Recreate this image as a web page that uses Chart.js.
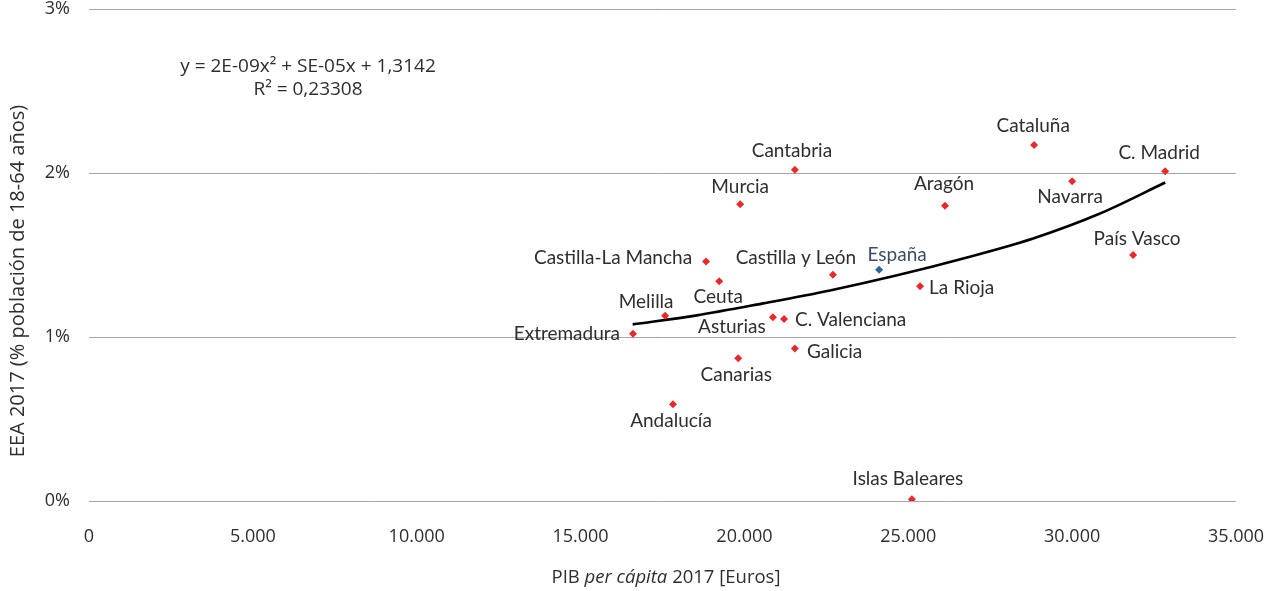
<!DOCTYPE html>
<html>
<head>
<meta charset="utf-8">
<script src="https://cdn.jsdelivr.net/npm/chart.js@4.4.1/dist/chart.umd.min.js"></script>
<style>
  html, body { margin: 0; padding: 0; background: #fff; }
  #wrap { position: relative; width: 1273px; height: 591px; }
</style>
</head>
<body>
<div id="wrap"><canvas id="chart" width="1273" height="591"></canvas></div>
<script>
"use strict";

// Regions (PIB per cápita 2017 in euros, EEA 2017 in %)
const regionNames = [
  "Cataluña", "C. Madrid", "Navarra", "Aragón", "País Vasco", "España",
  "La Rioja", "Cantabria", "Murcia", "Castilla-La Mancha", "Castilla y León",
  "Ceuta", "Melilla", "Extremadura", "Asturias", "C. Valenciana", "Galicia",
  "Canarias", "Andalucía", "Islas Baleares",
];
const pibValues = [
  28840, 32840, 30000, 26120, 31860, 24110,
  25360, 21540, 19870, 18830, 22700,
  19230, 17580, 16600, 20870, 21210, 21540,
  19810, 17820, 25110,
];
const eeaValues = [
  2.17, 2.01, 1.95, 1.80, 1.50, 1.41,
  1.31, 2.02, 1.81, 1.46, 1.38,
  1.34, 1.13, 1.02, 1.12, 1.11, 0.93,
  0.87, 0.59, 0.01,
];

// Polynomial trend line
const trendPib = [16590, 18550, 20570, 22610, 24660, 26790, 28810, 30850, 32840];
const trendEea = [1.077, 1.132, 1.205, 1.284, 1.376, 1.485, 1.601, 1.753, 1.942];

const yTicks = [0, 1, 2, 3];
const xTicks = [0, 5000, 10000, 15000, 20000, 25000, 30000, 35000];

const equationLines = ["y = 2E-09x\u00B2 + SE-05x + 1,3142", "R\u00B2 = 0,23308"];
const yTitle = "EEA 2017 (% población de 18-64 años)";
const xTitleParts = [
  { text: "PIB ", italic: false },
  { text: "per cápita", italic: true },
  { text: " 2017 [Euros]", italic: false },
];

// Label placement relative to each point
const labelPlacement = {
  "Cataluña": { dx: -1, dy: -19, align: "center" },
  "C. Madrid": { dx: -6, dy: -18, align: "center" },
  "Navarra": { dx: -2, dy: 16, align: "center" },
  "Aragón": { dx: -1, dy: -22, align: "center" },
  "País Vasco": { dx: 4, dy: -16, align: "center" },
  "España": { dx: 18, dy: -15, align: "center" },
  "La Rioja": { dx: 9, dy: 2, align: "left" },
  "Cantabria": { dx: -3, dy: -19, align: "center" },
  "Murcia": { dx: 0, dy: -17, align: "center" },
  "Castilla-La Mancha": { dx: -14, dy: -4, align: "right" },
  "Castilla y León": { dx: -37, dy: -17, align: "center" },
  "Ceuta": { dx: -1, dy: 16, align: "center" },
  "Melilla": { dx: -19, dy: -14, align: "center" },
  "Extremadura": { dx: -13, dy: 0, align: "right" },
  "Asturias": { dx: -41, dy: 10, align: "center" },
  "C. Valenciana": { dx: 11, dy: 1, align: "left" },
  "Galicia": { dx: 12, dy: 3, align: "left" },
  "Canarias": { dx: -2, dy: 17, align: "center" },
  "Andalucía": { dx: -2, dy: 17, align: "center" },
  "Islas Baleares": { dx: -4, dy: -20, align: "center" },
};

const RED = "#e8292c";
const BLUE = "#2f6699";
const TEXT = "#2e2e2e";

function fmtThousands(v) {
  return String(v).replace(/\B(?=(\d{3})+(?!\d))/g, ".");
}

// Drop the label overflow padding so the plot area sits where we put it
function noScalePadding(scale) {
  scale.paddingTop = 0;
  scale.paddingBottom = 0;
  scale.paddingLeft = 0;
  scale.paddingRight = 0;
}

// Draw region names next to each point
const pointLabels = {
  id: "pointLabels",
  afterDatasetsDraw(chart) {
    const meta = chart.getDatasetMeta(0);
    const ctx = chart.ctx;
    ctx.save();
    ctx.font = "19px Lato";
    ctx.textBaseline = "middle";
    meta.data.forEach((el, i) => {
      const name = regionNames[i];
      const p = labelPlacement[name] || { dx: 0, dy: -16, align: "center" };
      ctx.fillStyle = name === "España" ? "#3d4d60" : TEXT;
      ctx.textAlign = p.align;
      ctx.fillText(name, el.x + p.dx, el.y + p.dy);
    });
    ctx.restore();
  },
};

// Trend line equation and axis titles (x title has an italic part)
const extraText = {
  id: "extraText",
  afterDraw(chart) {
    const ctx = chart.ctx;
    ctx.save();
    ctx.fillStyle = TEXT;
    ctx.textBaseline = "middle";
    ctx.textAlign = "center";
    ctx.font = "500 19px 'Open Sans'";
    ctx.fillText(equationLines[0], 308, 67);
    ctx.fillText(equationLines[1], 308, 90);

    ctx.save();
    ctx.translate(18, 281);
    ctx.rotate(-Math.PI / 2);
    ctx.font = "20px 'Open Sans'";
    ctx.fillText(yTitle, 0, 0);
    ctx.restore();

    ctx.textAlign = "left";
    const fonts = xTitleParts.map((p) =>
      p.italic ? "italic 18.5px 'Open Sans'" : "18.5px 'Open Sans'"
    );
    let total = 0;
    xTitleParts.forEach((p, i) => {
      ctx.font = fonts[i];
      total += ctx.measureText(p.text).width;
    });
    let x = 666 - total / 2;
    xTitleParts.forEach((p, i) => {
      ctx.font = fonts[i];
      ctx.fillText(p.text, x, 578);
      x += ctx.measureText(p.text).width;
    });
    ctx.restore();
  },
};

const ctx = document.getElementById("chart").getContext("2d");

new Chart(ctx, {
  type: "scatter",
  data: {
    datasets: [
      {
        label: "Regiones",
        data: pibValues.map((x, i) => ({ x, y: eeaValues[i] })),
        pointStyle: "rectRot",
        pointRadius: 4,
        pointHoverRadius: 4,
        borderWidth: 0,
        pointBackgroundColor: regionNames.map((n) => (n === "España" ? BLUE : RED)),
        pointBorderColor: regionNames.map((n) => (n === "España" ? BLUE : RED)),
        order: 1,
      },
      {
        label: "Tendencia",
        type: "line",
        data: trendPib.map((x, i) => ({ x, y: trendEea[i] })),
        borderColor: "#000",
        borderWidth: 2.6,
        pointRadius: 0,
        fill: false,
        cubicInterpolationMode: "monotone",
        order: 2,
      },
    ],
  },
  options: {
    responsive: false,
    animation: false,
    layout: { padding: { left: 0, right: 37, top: 9, bottom: 0 } },
    plugins: {
      legend: { display: false },
      tooltip: { enabled: false },
    },
    scales: {
      x: {
        type: "linear",
        min: 0,
        max: 35000,
        afterBuildTicks: (scale) => {
          scale.ticks = xTicks.map((v) => ({ value: v }));
        },
        afterFit: (scale) => {
          scale.height = 90;
          noScalePadding(scale);
        },
        grid: { display: false },
        border: { display: false },
        ticks: {
          color: TEXT,
          font: { family: "'Open Sans'", size: 18 },
          padding: 17,
          maxRotation: 0,
          callback: (v) => fmtThousands(v),
        },
      },
      y: {
        type: "linear",
        min: 0,
        max: 3,
        afterBuildTicks: (scale) => {
          scale.ticks = yTicks.map((v) => ({ value: v }));
        },
        afterFit: (scale) => {
          scale.width = 89;
          noScalePadding(scale);
        },
        grid: { color: "#a6a6a6", lineWidth: 1, drawTicks: false },
        border: { display: false },
        ticks: {
          color: TEXT,
          font: { family: "'Open Sans'", size: 18 },
          padding: 19,
          callback: (v) => v + "%",
        },
      },
    },
  },
  plugins: [pointLabels, extraText],
});
</script>
</body>
</html>
